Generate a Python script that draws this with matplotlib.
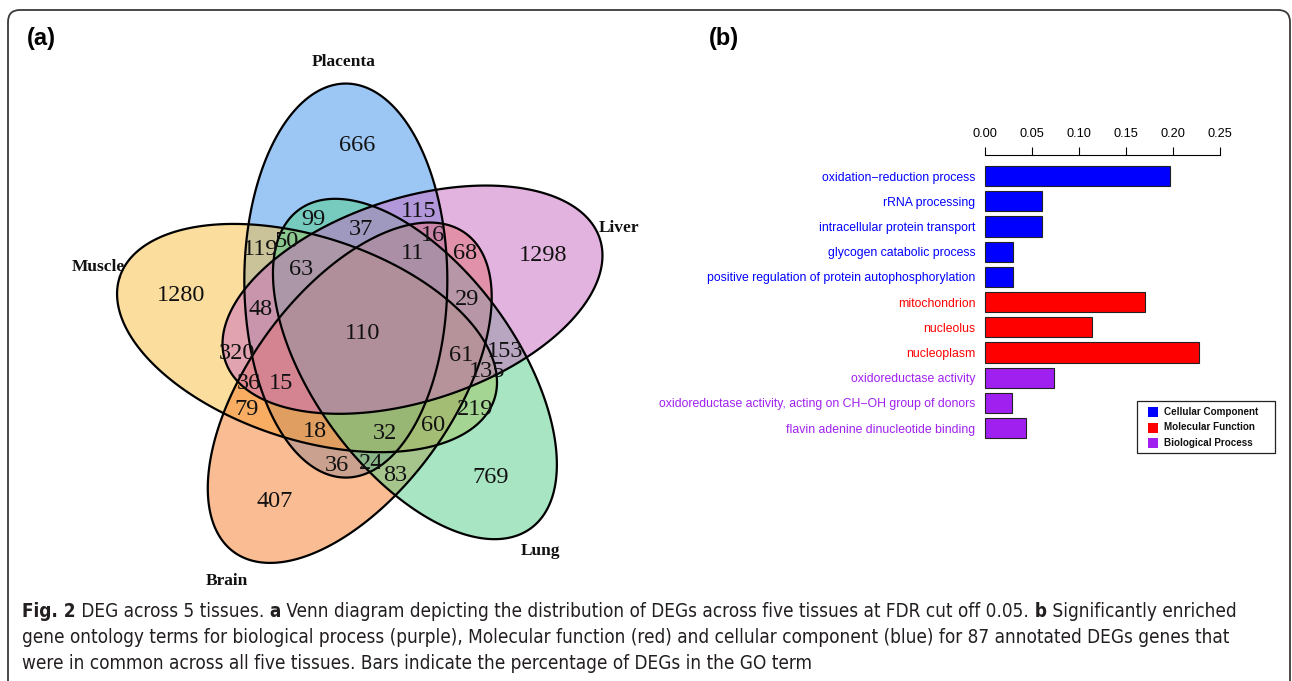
"""Five-tissue DEG Venn diagram plus GO enrichment bars for the shared genes."""

import numpy as np
import matplotlib
matplotlib.use("Agg")
import matplotlib.pyplot as plt
from matplotlib import font_manager
from matplotlib.font_manager import FontProperties
from matplotlib.patches import Polygon, FancyBboxPatch, Rectangle

# ---- panel (a): DEG counts per Venn region ----
tissues = ["Placenta", "Muscle", "Brain", "Lung", "Liver"]
tissue_colors = ["#3B91ED", "#F9BF3D", "#F77D29", "#51CD89", "#C969C1"]

region_keys = [
    "Placenta", "Muscle", "Brain", "Lung", "Liver",
    "Placenta&Muscle", "Placenta&Brain", "Placenta&Lung", "Placenta&Liver",
    "Muscle&Brain", "Muscle&Lung", "Muscle&Liver",
    "Brain&Lung", "Brain&Liver", "Lung&Liver",
    "Placenta&Muscle&Brain", "Placenta&Muscle&Lung", "Placenta&Muscle&Liver",
    "Placenta&Brain&Lung", "Placenta&Brain&Liver", "Placenta&Lung&Liver",
    "Muscle&Brain&Lung", "Muscle&Brain&Liver", "Muscle&Lung&Liver",
    "Brain&Lung&Liver",
    "Placenta&Muscle&Brain&Lung", "Placenta&Muscle&Brain&Liver",
    "Placenta&Muscle&Lung&Liver", "Placenta&Brain&Lung&Liver",
    "Muscle&Brain&Lung&Liver",
    "Placenta&Muscle&Brain&Lung&Liver",
]
region_counts = [
    666, 1280, 407, 769, 1298,
    119, 36, 99, 115,
    79, 219, 320,
    83, 68, 153,
    18, 50, 48,
    24, 16, 37,
    60, 36, 135,
    29,
    32, 15,
    63, 11,
    61,
    110,
]

# ---- panel (b): GO terms ----
go_terms = [
    "oxidation\u2212reduction process",
    "rRNA processing",
    "intracellular protein transport",
    "glycogen catabolic process",
    "positive regulation of protein autophosphorylation",
    "mitochondrion",
    "nucleolus",
    "nucleoplasm",
    "oxidoreductase activity",
    "oxidoreductase activity, acting on CH\u2212OH group of donors",
    "flavin adenine dinucleotide binding",
]
go_fraction = [0.197, 0.061, 0.061, 0.030, 0.030, 0.171, 0.114, 0.228, 0.074, 0.029, 0.044]
go_group = ["Cellular Component"] * 5 + ["Molecular Function"] * 3 + ["Biological Process"] * 3
group_names = ["Cellular Component", "Molecular Function", "Biological Process"]
group_colors = ["#0000FF", "#FF0000", "#A020F0"]

caption_lines = [
    [("Fig. 2", True), (" DEG across 5 tissues.", False), (" a", True),
     (" Venn diagram depicting the distribution of DEGs across five tissues at FDR cut off 0.05.", False),
     (" b", True), (" Significantly enriched", False)],
    [("gene ontology terms for biological process (purple), Molecular function (red) and cellular "
      "component (blue) for 87 annotated DEGs genes that", False)],
    [("were in common across all five tissues. Bars indicate the percentage of DEGs in the GO term", False)],
]

W, H = 1292, 681
fig = plt.figure(figsize=(W / 100, H / 100), dpi=100)
ax = fig.add_axes([0, 0, 1, 1])
ax.set_xlim(0, W)
ax.set_ylim(H, 0)
ax.axis("off")

ax.add_patch(FancyBboxPatch((8, 10), 1282, 700, boxstyle="round,pad=0,rounding_size=12",
                            fill=False, ec="#3a3a3a", lw=1.3))

# ellipse layout (pixel units): five congruent ellipses rotated by 72 degrees
CX, CY = 366, 336
SEMI_A, SEMI_B = 197, 101.5
OFFSET, OFFSET_ANG = 59, 20
axis_deg = {"Placenta": 90, "Muscle": 162, "Brain": 234, "Lung": 306, "Liver": 18}


def ellipse_frame(name):
    th = np.deg2rad(axis_deg[name])
    ph = np.deg2rad(axis_deg[name] + OFFSET_ANG)
    c = np.array([CX + OFFSET * np.cos(ph), CY - OFFSET * np.sin(ph)])
    e1 = np.array([np.cos(th), -np.sin(th)])
    e2 = np.array([np.sin(th), np.cos(th)])
    return c, e1, e2


t = np.linspace(0, 2 * np.pi, 400)
for name, col in zip(tissues, tissue_colors):
    c, e1, e2 = ellipse_frame(name)
    pts = c + np.outer(SEMI_A * np.cos(t), e1) + np.outer(SEMI_B * np.sin(t), e2)
    ax.add_patch(Polygon(pts, closed=True, fc=col, alpha=0.5, ec="none", zorder=2))
for name in tissues:
    c, e1, e2 = ellipse_frame(name)
    pts = c + np.outer(SEMI_A * np.cos(t), e1) + np.outer(SEMI_B * np.sin(t), e2)
    ax.add_patch(Polygon(pts, closed=True, fill=False, ec="black", lw=1.6, zorder=3))

# membership grid used to find a label spot deep inside every region
xs = np.arange(95, 625, 2.0)
ys = np.arange(65, 590, 2.0)
gx, gy = np.meshgrid(xs, ys)
inside = {}
for name in tissues:
    c, e1, e2 = ellipse_frame(name)
    u = (gx - c[0]) * e1[0] + (gy - c[1]) * e1[1]
    v = (gx - c[0]) * e2[0] + (gy - c[1]) * e2[1]
    inside[name] = (u / SEMI_A) ** 2 + (v / SEMI_B) ** 2 <= 1


def deepest_point(mask):
    prev = mask
    while mask.any():
        prev = mask
        m = mask.copy()
        m[1:, :] &= mask[:-1, :]
        m[:-1, :] &= mask[1:, :]
        m[:, 1:] &= mask[:, :-1]
        m[:, :-1] &= mask[:, 1:]
        mask = m
    iy, ix = np.nonzero(prev)
    k = np.argmin((iy - iy.mean()) ** 2 + (ix - ix.mean()) ** 2)
    return xs[ix[k]], ys[iy[k]]


for key, count in zip(region_keys, region_counts):
    members = key.split("&")
    mask = np.ones_like(gx, dtype=bool)
    for name in tissues:
        mask &= inside[name] if name in members else ~inside[name]
    lx, ly = deepest_point(mask)
    ax.text(lx, ly, str(count), ha="center", va="center_baseline", fontsize=17.5,
            family="Liberation Serif", color="#111111", zorder=4)

cat_pos = {"Placenta": (344, 62), "Liver": (619, 228), "Muscle": (98, 267),
           "Lung": (540, 551), "Brain": (227, 581)}
for name in tissues:
    x, y = cat_pos[name]
    ax.text(x, y, name, ha="center", va="center", fontsize=12.5, fontweight="bold",
            family="Liberation Serif", color="#111111")

ax.text(27, 38, "(a)", ha="left", va="center", fontsize=17, fontweight="bold", family="Liberation Sans")
ax.text(709, 38, "(b)", ha="left", va="center", fontsize=17, fontweight="bold", family="Liberation Sans")

# ---- panel (b) bars ----
axb = fig.add_axes([985 / W, 1 - 445 / H, 234.5 / W, 290 / H])
ypos = np.arange(len(go_terms))
color_of = dict(zip(group_names, group_colors))
bar_colors = [color_of[g] for g in go_group]
axb.barh(ypos, go_fraction, height=0.8, color=bar_colors, edgecolor="#222222",
         linewidth=0.8, clip_on=False)
axb.set_xlim(0, 0.25)
axb.set_ylim(10.67, -0.833)
axb.xaxis.tick_top()
ticks = np.arange(0, 0.26, 0.05)
axb.set_xticks(ticks)
axb.set_xticklabels([f"{v:.2f}" for v in ticks], family="Liberation Sans", fontsize=9.2)
axb.tick_params(axis="x", direction="out", length=6, width=0.8, pad=5)
axb.set_yticks(ypos)
axb.set_yticklabels(go_terms, family="Liberation Sans", fontsize=8.8)
for lab, col in zip(axb.get_yticklabels(), bar_colors):
    lab.set_color(col)
axb.tick_params(axis="y", length=0, pad=7)
for side in ["left", "right", "bottom"]:
    axb.spines[side].set_visible(False)
axb.spines["top"].set_linewidth(0.8)
axb.patch.set_visible(False)

# legend box for the three GO namespaces
ax.add_patch(Rectangle((1137, 401), 138, 52, fill=False, ec="#222222", lw=0.9, zorder=5))
for i, (gname, gcol) in enumerate(zip(group_names, group_colors)):
    yy = 412 + 15.5 * i
    ax.add_patch(Rectangle((1148, yy - 5), 10, 10, fc=gcol, ec="none", zorder=5))
    ax.text(1164, yy, gname, ha="left", va="center", fontsize=7.1, fontweight="bold",
            family="Liberation Sans", color="#111111", zorder=5)

# ---- caption, fitted to the panel width ----
installed = font_manager.fontManager.ttflist
names = {f.name for f in installed}
cap_family, cap_stretch = "Liberation Sans", "normal"
if "Liberation Sans Narrow" in names:
    cap_family = "Liberation Sans Narrow"
elif any(f.name == "DejaVu Sans" and f.stretch == "condensed" for f in installed):
    cap_family, cap_stretch = "DejaVu Sans", "condensed"
elif "Roboto Condensed" in names:
    cap_family = "Roboto Condensed"
renderer = fig.canvas.get_renderer()


def run_props(bold, size):
    return FontProperties(family=cap_family, size=size, stretch=cap_stretch,
                          weight="bold" if bold else "normal")


def run_width(s, bold, size):
    w, _, _ = renderer.get_text_width_height_descent(s, run_props(bold, size), ismath=False)
    return w


base = 10.0
first_w = sum(run_width(s, b, base) for s, b in caption_lines[0])
cap_size = base * 1214 / first_w
for i, line in enumerate(caption_lines):
    x = 22
    y = 617 + 26 * i
    for s, bold in line:
        ax.text(x, y, s, ha="left", va="baseline", fontproperties=run_props(bold, cap_size),
                color="#231f20")
        x += run_width(s, bold, cap_size)

fig.savefig("out.png", dpi=100)
